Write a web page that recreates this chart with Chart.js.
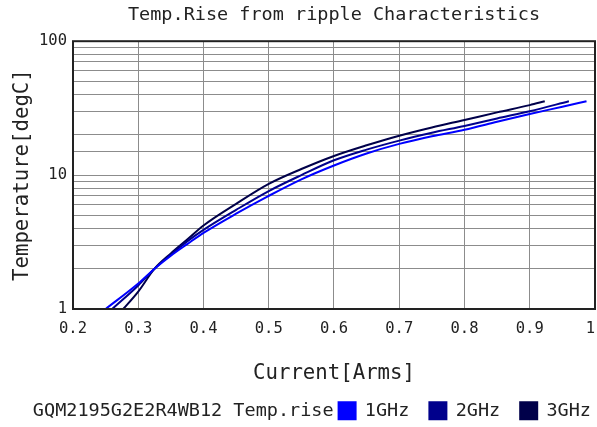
<!DOCTYPE html>
<html>
<head>
<meta charset="utf-8">
<script src="https://cdn.jsdelivr.net/npm/chart.js@4.4.1/dist/chart.umd.min.js"></script>
<style>
  html, body { margin: 0; padding: 0; background: #fff; }
  #wrap { width: 597px; height: 427px; }
</style>
</head>
<body>
<div id="wrap"><canvas id="chart" width="597" height="427"></canvas></div>
<script>
const chartTitle = 'Temp.Rise from ripple Characteristics';
const xTitle = 'Current[Arms]';
const yTitle = 'Temperature[degC]';
const legendPrefix = 'GQM2195G2E2R4WB12 Temp.rise';

const seriesNames = ['1GHz', '2GHz', '3GHz'];
const seriesColors = ['#0000ff', '#00008c', '#00004a'];

// current [Arms] / temperature rise [degC]
const current1G = [0.25, 0.30, 0.325, 0.35, 0.375, 0.40, 0.45, 0.50, 0.55, 0.60, 0.65, 0.70, 0.75, 0.80, 0.85, 0.90, 0.95, 0.987];
const temp1G    = [1.0, 1.55, 2.0, 2.5, 3.05, 3.7, 5.15, 7.0, 9.3, 11.8, 14.5, 17.1, 19.5, 21.8, 25.0, 28.6, 32.4, 35.6];

const current2G = [0.26, 0.30, 0.325, 0.35, 0.375, 0.40, 0.45, 0.50, 0.55, 0.60, 0.65, 0.70, 0.75, 0.80, 0.85, 0.90, 0.96];
const temp2G    = [1.0, 1.5, 2.0, 2.55, 3.2, 3.9, 5.5, 7.6, 10.0, 12.9, 15.5, 18.1, 20.7, 23.3, 26.5, 30.0, 35.6];

const current3G = [0.277, 0.30, 0.325, 0.35, 0.375, 0.40, 0.45, 0.50, 0.55, 0.60, 0.65, 0.70, 0.75, 0.80, 0.85, 0.90, 0.923];
const temp3G    = [1.0, 1.35, 2.0, 2.6, 3.3, 4.2, 6.1, 8.6, 11.1, 13.9, 16.7, 19.7, 22.7, 25.8, 29.4, 33.3, 35.6];

// last label has a trailing space so it sits inside the canvas like the original
const xTickLabels = ['0.2', '0.3', '0.4', '0.5', '0.6', '0.7', '0.8', '0.9', '1 '];
const yTickLabels = ['1', '10', '100'];

const FONT = 'DejaVu Sans Mono';
const TEXT = '#222';

const currents = [current1G, current2G, current3G];
const temps = [temp1G, temp2G, temp3G];

const datasets = seriesNames.map((name, k) => ({
    label: name,
    data: currents[k].map((x, i) => ({ x: x, y: temps[k][i] })),
    borderColor: seriesColors[k],
    backgroundColor: seriesColors[k],
    borderWidth: 2,
    pointRadius: 0,
    fill: false,
    cubicInterpolationMode: 'monotone'
}));

// box round the plot area
const framePlugin = {
    id: 'frame',
    afterDraw(chart) {
        const { ctx, chartArea: a } = chart;
        ctx.save();
        ctx.strokeStyle = TEXT;
        ctx.lineWidth = 2;
        ctx.strokeRect(a.left, a.top, a.right - a.left, a.bottom - a.top);
        ctx.restore();
    }
};

// the part-number text sits on the same row, left of the legend items
const legendPrefixPlugin = {
    id: 'legendPrefix',
    afterLayout(chart) {
        // push the right-aligned items closer to the canvas edge
        chart.legend.right += 16;
    },
    afterDraw(chart) {
        const hb = chart.legend.legendHitBoxes[0];
        if (!hb) return;
        const ctx = chart.ctx;
        ctx.save();
        ctx.font = `18.5px "${FONT}"`;
        ctx.fillStyle = TEXT;
        ctx.textAlign = 'right';
        ctx.textBaseline = 'middle';
        ctx.fillText(legendPrefix, hb.left - 5, hb.top + hb.height / 2);
        ctx.restore();
    }
};

new Chart(document.getElementById('chart'), {
    type: 'line',
    data: { datasets: datasets },
    options: {
        responsive: false,
        animation: false,
        devicePixelRatio: 1,
        layout: { padding: { left: 0, right: 2, top: 0, bottom: -3 } },
        plugins: {
            title: {
                display: true,
                text: chartTitle,
                fullSize: false,
                color: TEXT,
                font: { family: FONT, size: 18.5, weight: 'normal' },
                padding: { top: 4, bottom: 15 }
            },
            legend: {
                position: 'bottom',
                align: 'end',
                labels: {
                    font: { family: FONT, size: 18.5 },
                    color: TEXT,
                    boxWidth: 17,
                    boxHeight: 17,
                    padding: 20
                }
            },
            tooltip: { enabled: false }
        },
        scales: {
            x: {
                type: 'linear',
                min: 0.2,
                max: 1,
                grid: { color: '#8c8c8c', lineWidth: 1, drawTicks: false },
                border: { display: false },
                ticks: {
                    stepSize: 0.1,
                    padding: 11,
                    color: TEXT,
                    font: { family: FONT, size: 15.5 },
                    callback: (value, index) => xTickLabels[index]
                },
                title: {
                    display: true,
                    text: xTitle,
                    color: TEXT,
                    font: { family: FONT, size: 20.7 },
                    padding: { top: 0, bottom: -5 }
                },
                afterFit: s => { s.height = 72.5; s.paddingLeft = 0; s.paddingRight = 0; }
            },
            y: {
                type: 'logarithmic',
                min: 1,
                max: 100,
                grid: { color: '#8c8c8c', lineWidth: 1, drawTicks: false },
                border: { display: false },
                ticks: {
                    autoSkip: false,
                    padding: 6,
                    color: TEXT,
                    font: { family: FONT, size: 15.5 },
                    callback: value => yTickLabels.includes(String(value)) ? String(value) : ''
                },
                title: {
                    display: true,
                    text: yTitle,
                    color: TEXT,
                    font: { family: FONT, size: 20.7 },
                    padding: { top: 10.6, bottom: 0 }
                },
                afterFit: s => { s.width = 73; }
            }
        }
    },
    plugins: [framePlugin, legendPrefixPlugin]
});
</script>
</body>
</html>
